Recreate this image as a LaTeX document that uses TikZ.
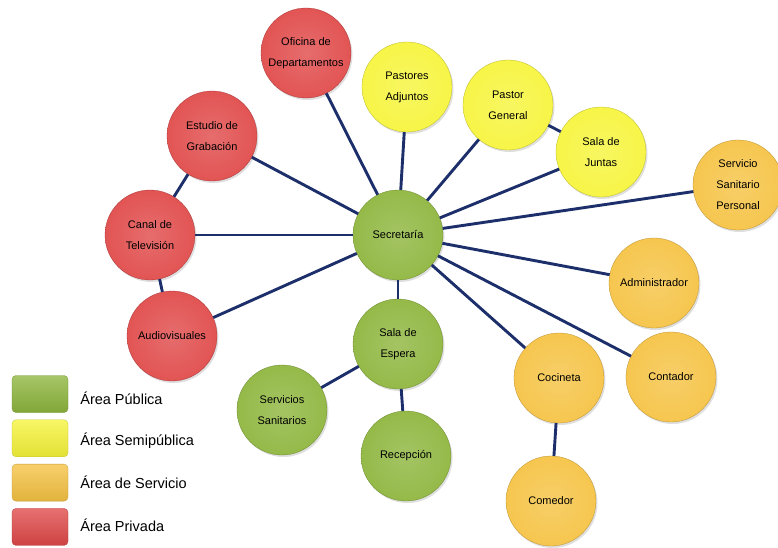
\documentclass[tikz,border=0pt]{standalone}
\usepackage{fontspec}
\setmainfont{Liberation Sans}
\usetikzlibrary{positioning,shadows}

\definecolor{pubG}{HTML}{8DB53C}
\definecolor{semiY}{HTML}{F6F43A}
\definecolor{servO}{HTML}{F5C242}
\definecolor{privR}{HTML}{E04848}
\definecolor{linkB}{HTML}{1D2F6A}

% rim shading, colour taken from rimc at use time
\colorlet{rimc}{white}
\pgfdeclareradialshading[rimc]{rim}{\pgfpoint{0bp}{0bp}}{%
  color(0bp)=(rimc!80!white); color(30bp)=(rimc!96!white);
  color(45bp)=(rimc!92!black); color(50bp)=(rimc!78!black)}

\begin{document}
\begin{tikzpicture}[
  x=1pt, y=-1pt,
  font=\fontsize{11}{21}\selectfont,
  zone/.style={circle, minimum size=90pt, inner sep=0pt, align=center,
    /utils/exec={\colorlet{rimc}{#1}}, shading=rim, draw=#1!75!black, line width=0.3pt,
    drop shadow={opacity=0.25, shadow xshift=1.5pt, shadow yshift=-2pt}},
  pub/.style={zone=pubG},
  semi/.style={zone=semiY},
  serv/.style={zone=servO},
  priv/.style={zone=privR},
  link/.style={line width=2.9pt, draw=linkB},
  key/.style={rectangle, rounded corners=4pt, minimum width=56pt, minimum height=37pt,
    inner sep=0pt, draw=#1!80!black, line width=0.3pt, top color=#1!78!white, bottom color=#1!92!black},
  keylbl/.style={inner sep=0pt, font=\fontsize{14.5}{16}\selectfont},
]
  \useasboundingbox (0,0) rectangle (778,548);
  % hub
  \node[pub] (sec) at (398,235) {Secretaría};
  % public area
  \node[pub] (sesp) at (398,344) {Sala de\\Espera};
  \node[pub] (ssan) at (282,410) {Servicios\\Sanitarios};
  \node[pub] (rec) at (406,456) {Recepción};
  % semi-public area
  \node[semi] (padj) at (407,87) {Pastores\\Adjuntos};
  \node[semi] (pgen) at (508,105) {Pastor\\General};
  \node[semi] (sjun) at (601,152) {Sala de\\Juntas};
  % service area
  \node[serv] (ssp) at (738,185) {Servicio\\Sanitario\\Personal};
  \node[serv] (adm) at (654,283) {Administrador};
  \node[serv] (cont) at (671,377) {Contador};
  \node[serv] (coc) at (559,378) {Cocineta};
  \node[serv] (com) at (551,501) {Comedor};
  % private area
  \node[priv] (ofi) at (306,53) {Oficina de\\Departamentos};
  \node[priv] (est) at (212,136) {Estudio de\\Grabación};
  \node[priv] (can) at (150,235) {Canal de\\Televisión};
  \node[priv] (aud) at (172,336) {Audiovisuales};
  % links
  \foreach \n in {ofi,padj,pgen,sjun,ssp,adm,cont,coc,sesp,aud,can,est}
    \draw[link] (sec) -- (\n);
  \draw[link] (est) -- (can);
  \draw[link] (can) -- (aud);
  \draw[link] (pgen) -- (sjun);
  \draw[link] (sesp) -- (ssan);
  \draw[link] (sesp) -- (rec);
  \draw[link] (coc) -- (com);
  % legend
  \node[key=pubG] (kpub) at (40,394) {};
  \node[key=semiY, below=7pt of kpub] (ksemi) {};
  \node[key=servO, below=7pt of ksemi] (kserv) {};
  \node[key=privR, below=7pt of kserv] (kpriv) {};
  \node[keylbl, right=12pt of kpub, yshift=-4pt] (lpub) {Área Pública};
  \node[keylbl, right=12pt of ksemi, yshift=-2pt] (lsemi) {Área Semipública};
  \node[keylbl, right=12pt of kserv] (lserv) {Área de Servicio};
  \node[keylbl, right=12pt of kpriv, yshift=2pt] (lpriv) {Área Privada};
\end{tikzpicture}
\end{document}
